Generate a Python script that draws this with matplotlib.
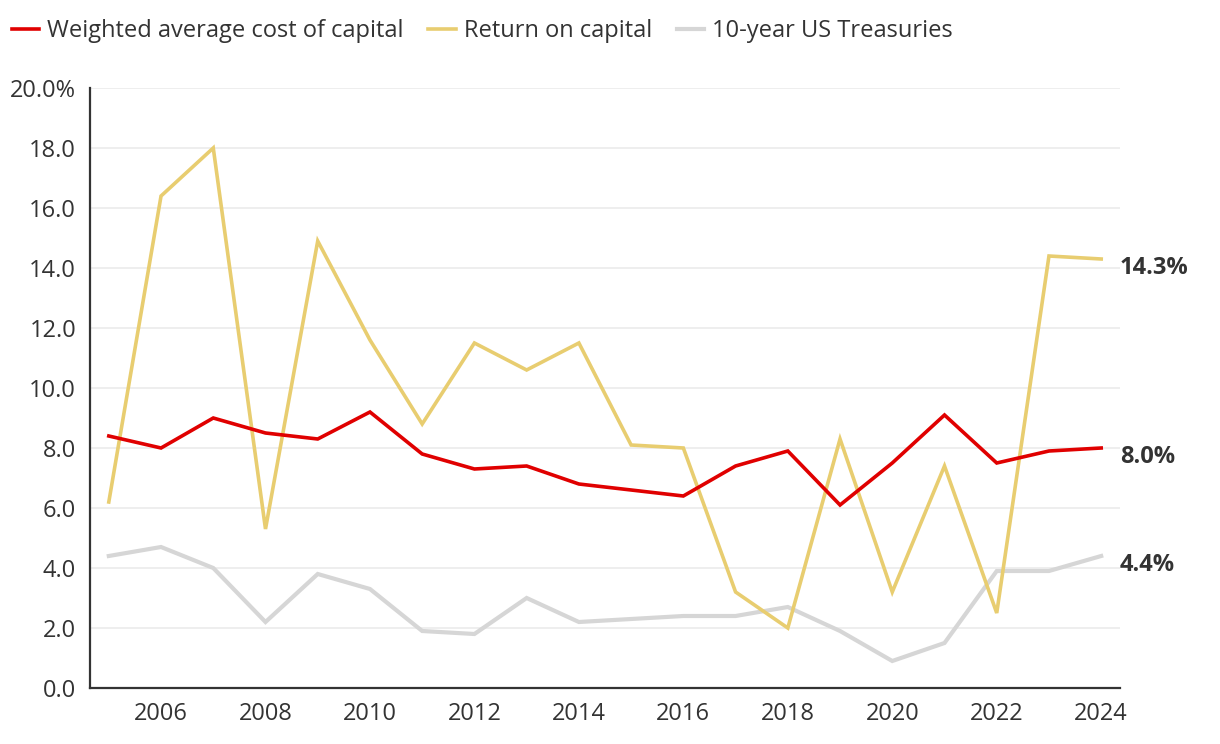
import matplotlib
matplotlib.use("Agg")
import matplotlib.pyplot as plt
from matplotlib.ticker import FuncFormatter

plt.rcParams['font.family'] = ['Open Sans', 'DejaVu Sans']

years = list(range(2005, 2025))
wacc = [8.4, 8.0, 9.0, 8.5, 8.3, 9.2, 7.8, 7.3, 7.4, 6.8, 6.6, 6.4, 7.4, 7.9, 6.1, 7.5, 9.1, 7.5, 7.9, 8.0]
roc = [6.2, 16.4, 18.0, 5.3, 14.9, 11.6, 8.8, 11.5, 10.6, 11.5, 8.1, 8.0, 3.2, 2.0, 8.3, 3.2, 7.4, 2.5, 14.4, 14.3]
ust = [4.4, 4.7, 4.0, 2.2, 3.8, 3.3, 1.9, 1.8, 3.0, 2.2, 2.3, 2.4, 2.4, 2.7, 1.9, 0.9, 1.5, 3.9, 3.9, 4.4]
series_names = ["Weighted average cost of capital", "Return on capital", "10-year US Treasuries"]
xticks = list(range(2006, 2025, 2))
yticks = [0, 2, 4, 6, 8, 10, 12, 14, 16, 18, 20]

RED = "#e00000"
GOLD = "#e8cd70"
GRAY = "#d6d6d6"
TXT = "#333333"

fig = plt.figure(figsize=(12.2, 7.44), dpi=100)
ax = fig.add_axes([90/1220, 56/744, 1030/1220, 600/744])

ax.plot(years, ust, color=GRAY, lw=3.0, label=series_names[2], zorder=2, solid_joinstyle='miter')
ax.plot(years, roc, color=GOLD, lw=2.6, label=series_names[1], zorder=3, solid_joinstyle='miter')
ax.plot(years, wacc, color=RED, lw=2.6, label=series_names[0], zorder=4, solid_joinstyle='miter')

ax.set_xlim(2004.64, 2024.36)
ax.set_ylim(0, 20)
ax.set_yticks(yticks)
ax.set_xticks(xticks)
ax.yaxis.set_major_formatter(FuncFormatter(lambda v, p: f"{v:.1f}%" if v == 20 else f"{v:.1f}"))
ax.grid(axis='y', color='#ebebeb', lw=1.2, zorder=0)
ax.set_axisbelow(True)
for s in ['top', 'right']:
    ax.spines[s].set_visible(False)
for s in ['left', 'bottom']:
    ax.spines[s].set_color(TXT)
    ax.spines[s].set_linewidth(1.6)
ax.tick_params(length=0, labelsize=17, colors=TXT, pad=10)
ax.tick_params(axis='y', pad=10)

for vals in (roc, wacc, ust):
    ax.annotate(f"{vals[-1]:.1f}%", xy=(1, vals[-1]), xycoords=('axes fraction', 'data'),
                xytext=(0, -6.5), textcoords='offset points', ha='left', va='center',
                fontsize=17, fontweight='bold', color=TXT)

h, l = ax.get_legend_handles_labels()
order = [2, 1, 0]
fig.legend([h[i] for i in order], [l[i] for i in order], loc='center left',
           bbox_to_anchor=(-0.004, 1 - 31/744), ncol=3, frameon=False, fontsize=17,
           handlelength=1.15, handletextpad=0.35, columnspacing=1.05, labelcolor=TXT,
           borderpad=0.2)

fig.savefig("out.png", dpi=100)
